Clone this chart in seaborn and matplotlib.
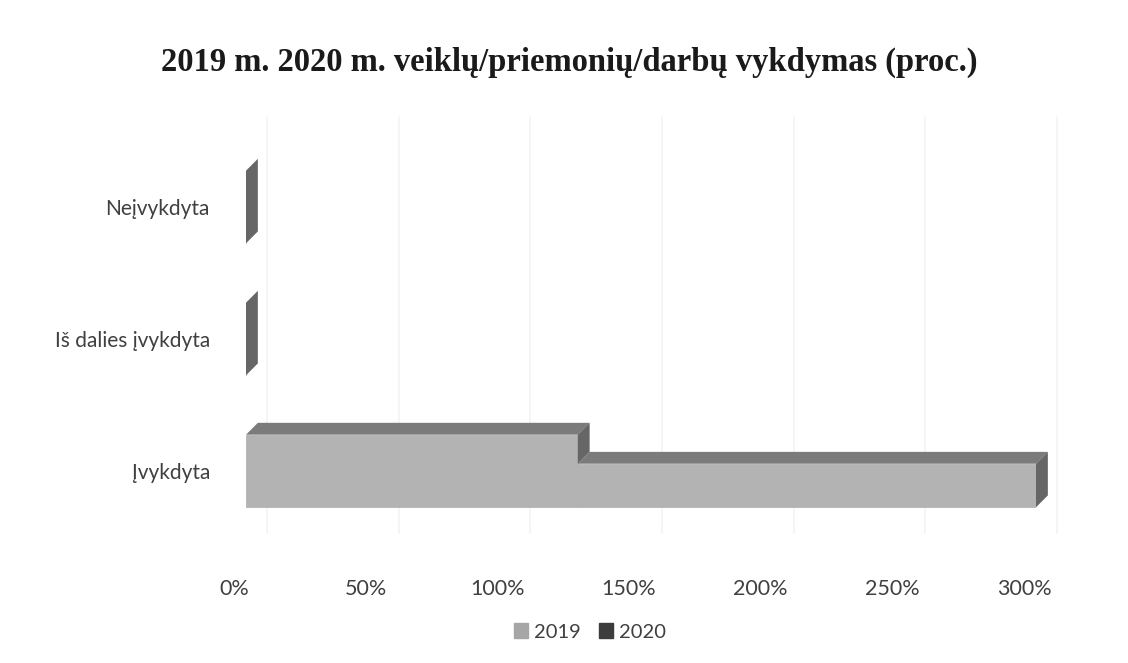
import numpy as np
import matplotlib
matplotlib.use('Agg')
import matplotlib.pyplot as plt
import matplotlib.transforms as mtransforms
from matplotlib.patches import Polygon, Patch
import seaborn as sns

# Duomenys (proc.)
categories = ['Neįvykdyta', 'Iš dalies įvykdyta', 'Įvykdyta']
values_2019 = [0, 0, 126]
values_2020 = [0, 0, 174]
x_ticks = [0, 50, 100, 150, 200, 250, 300]
x_labels = ['0%', '50%', '100%', '150%', '200%', '250%', '300%']

sns.set_style('white')
plt.rcParams['font.family'] = ['Lato', 'DejaVu Sans']

fig = plt.figure(figsize=(11.28, 6.63), dpi=100)
ax = fig.add_axes([246 / 1128, 1 - 537 / 663, 790 / 1128, 396 / 663])

face = '#b3b3b3'
top_col = '#7b7b7b'
side_col = '#666666'
h19 = 0.55
h20 = 0.33
dx = 4.5   # gylis x kryptimi (proc.)
dy = 0.09  # gylis y kryptimi

# tinklelio linijos (galine plokstuma)
for t in x_ticks:
    ax.axvline(t + 8, ymin=0.01, ymax=1.06, color='#f3f3f3', lw=1.2, zorder=0, clip_on=False)

# 2019 priekine plokstuma
sns.barplot(x=values_2019, y=categories, orient='h', color=face,
            width=h19, saturation=1, linewidth=0.6, edgecolor=face, ax=ax, zorder=2)

for i, (a, b) in enumerate(zip(values_2019, values_2020)):
    bot = i + h19 / 2
    top19 = i - h19 / 2
    top20 = bot - h20
    # 2019 virsus ir sonas
    if a > 0:
        ax.add_patch(Polygon([(0, top19), (dx, top19 - dy), (a + dx, top19 - dy), (a, top19)],
                             closed=True, color=top_col, lw=0, zorder=2, clip_on=False))
    side_bot = top20 if b > 0 else bot
    ax.add_patch(Polygon([(a, top19), (a + dx, top19 - dy), (a + dx, side_bot - dy), (a, side_bot)],
                         closed=True, color=side_col, lw=0, zorder=2, clip_on=False))
    # 2020 priekis, virsus, sonas
    if b > 0:
        ax.barh(i + h19 / 2 - h20 / 2, b, left=a, height=h20, color=face,
                edgecolor=face, lw=0.6, zorder=3)
        ax.add_patch(Polygon([(a, top20), (a + dx, top20 - dy), (a + b + dx, top20 - dy), (a + b, top20)],
                             closed=True, color=top_col, lw=0, zorder=3, clip_on=False))
        ax.add_patch(Polygon([(a + b, top20), (a + b + dx, top20 - dy), (a + b + dx, bot - dy), (a + b, bot)],
                             closed=True, color=side_col, lw=0, zorder=3, clip_on=False))

ax.set_xlim(0, 300)
ax.set_ylim(2.5, -0.5)
ax.set_xticks(x_ticks)
ax.set_xticklabels(x_labels)
ax.set_xlabel('')
ax.set_ylabel('')
ax.tick_params(axis='x', length=0, pad=30, labelsize=15.5, labelcolor='#404040')
ax.tick_params(axis='y', length=0, pad=26, labelsize=15, labelcolor='#404040')
shift = mtransforms.ScaledTranslation(-12 / 100, 0, fig.dpi_scale_trans)
for lbl in ax.get_xticklabels():
    lbl.set_transform(lbl.get_transform() + shift)
sns.despine(ax=ax, left=True, bottom=True)

fig.suptitle('2019 m. 2020 m. veiklų/priemonių/darbų vykdymas (proc.)',
             x=0.505, y=1 - 62 / 663, va='center', fontsize=23.5, fontweight='bold',
             family=['Liberation Serif', 'DejaVu Serif'], color='#1a1a1a')

handles = [Patch(color='#a6a6a6', label='2019'), Patch(color='#3c3c3c', label='2020')]
fig.legend(handles=handles, loc='center', bbox_to_anchor=(590 / 1128, 1 - 632 / 663),
           ncol=2, frameon=False, handlelength=0.7, handleheight=0.7, handletextpad=0.3,
           columnspacing=0.9, fontsize=14.5, labelcolor='#404040')

fig.savefig('out.png', dpi=100, facecolor='white')
